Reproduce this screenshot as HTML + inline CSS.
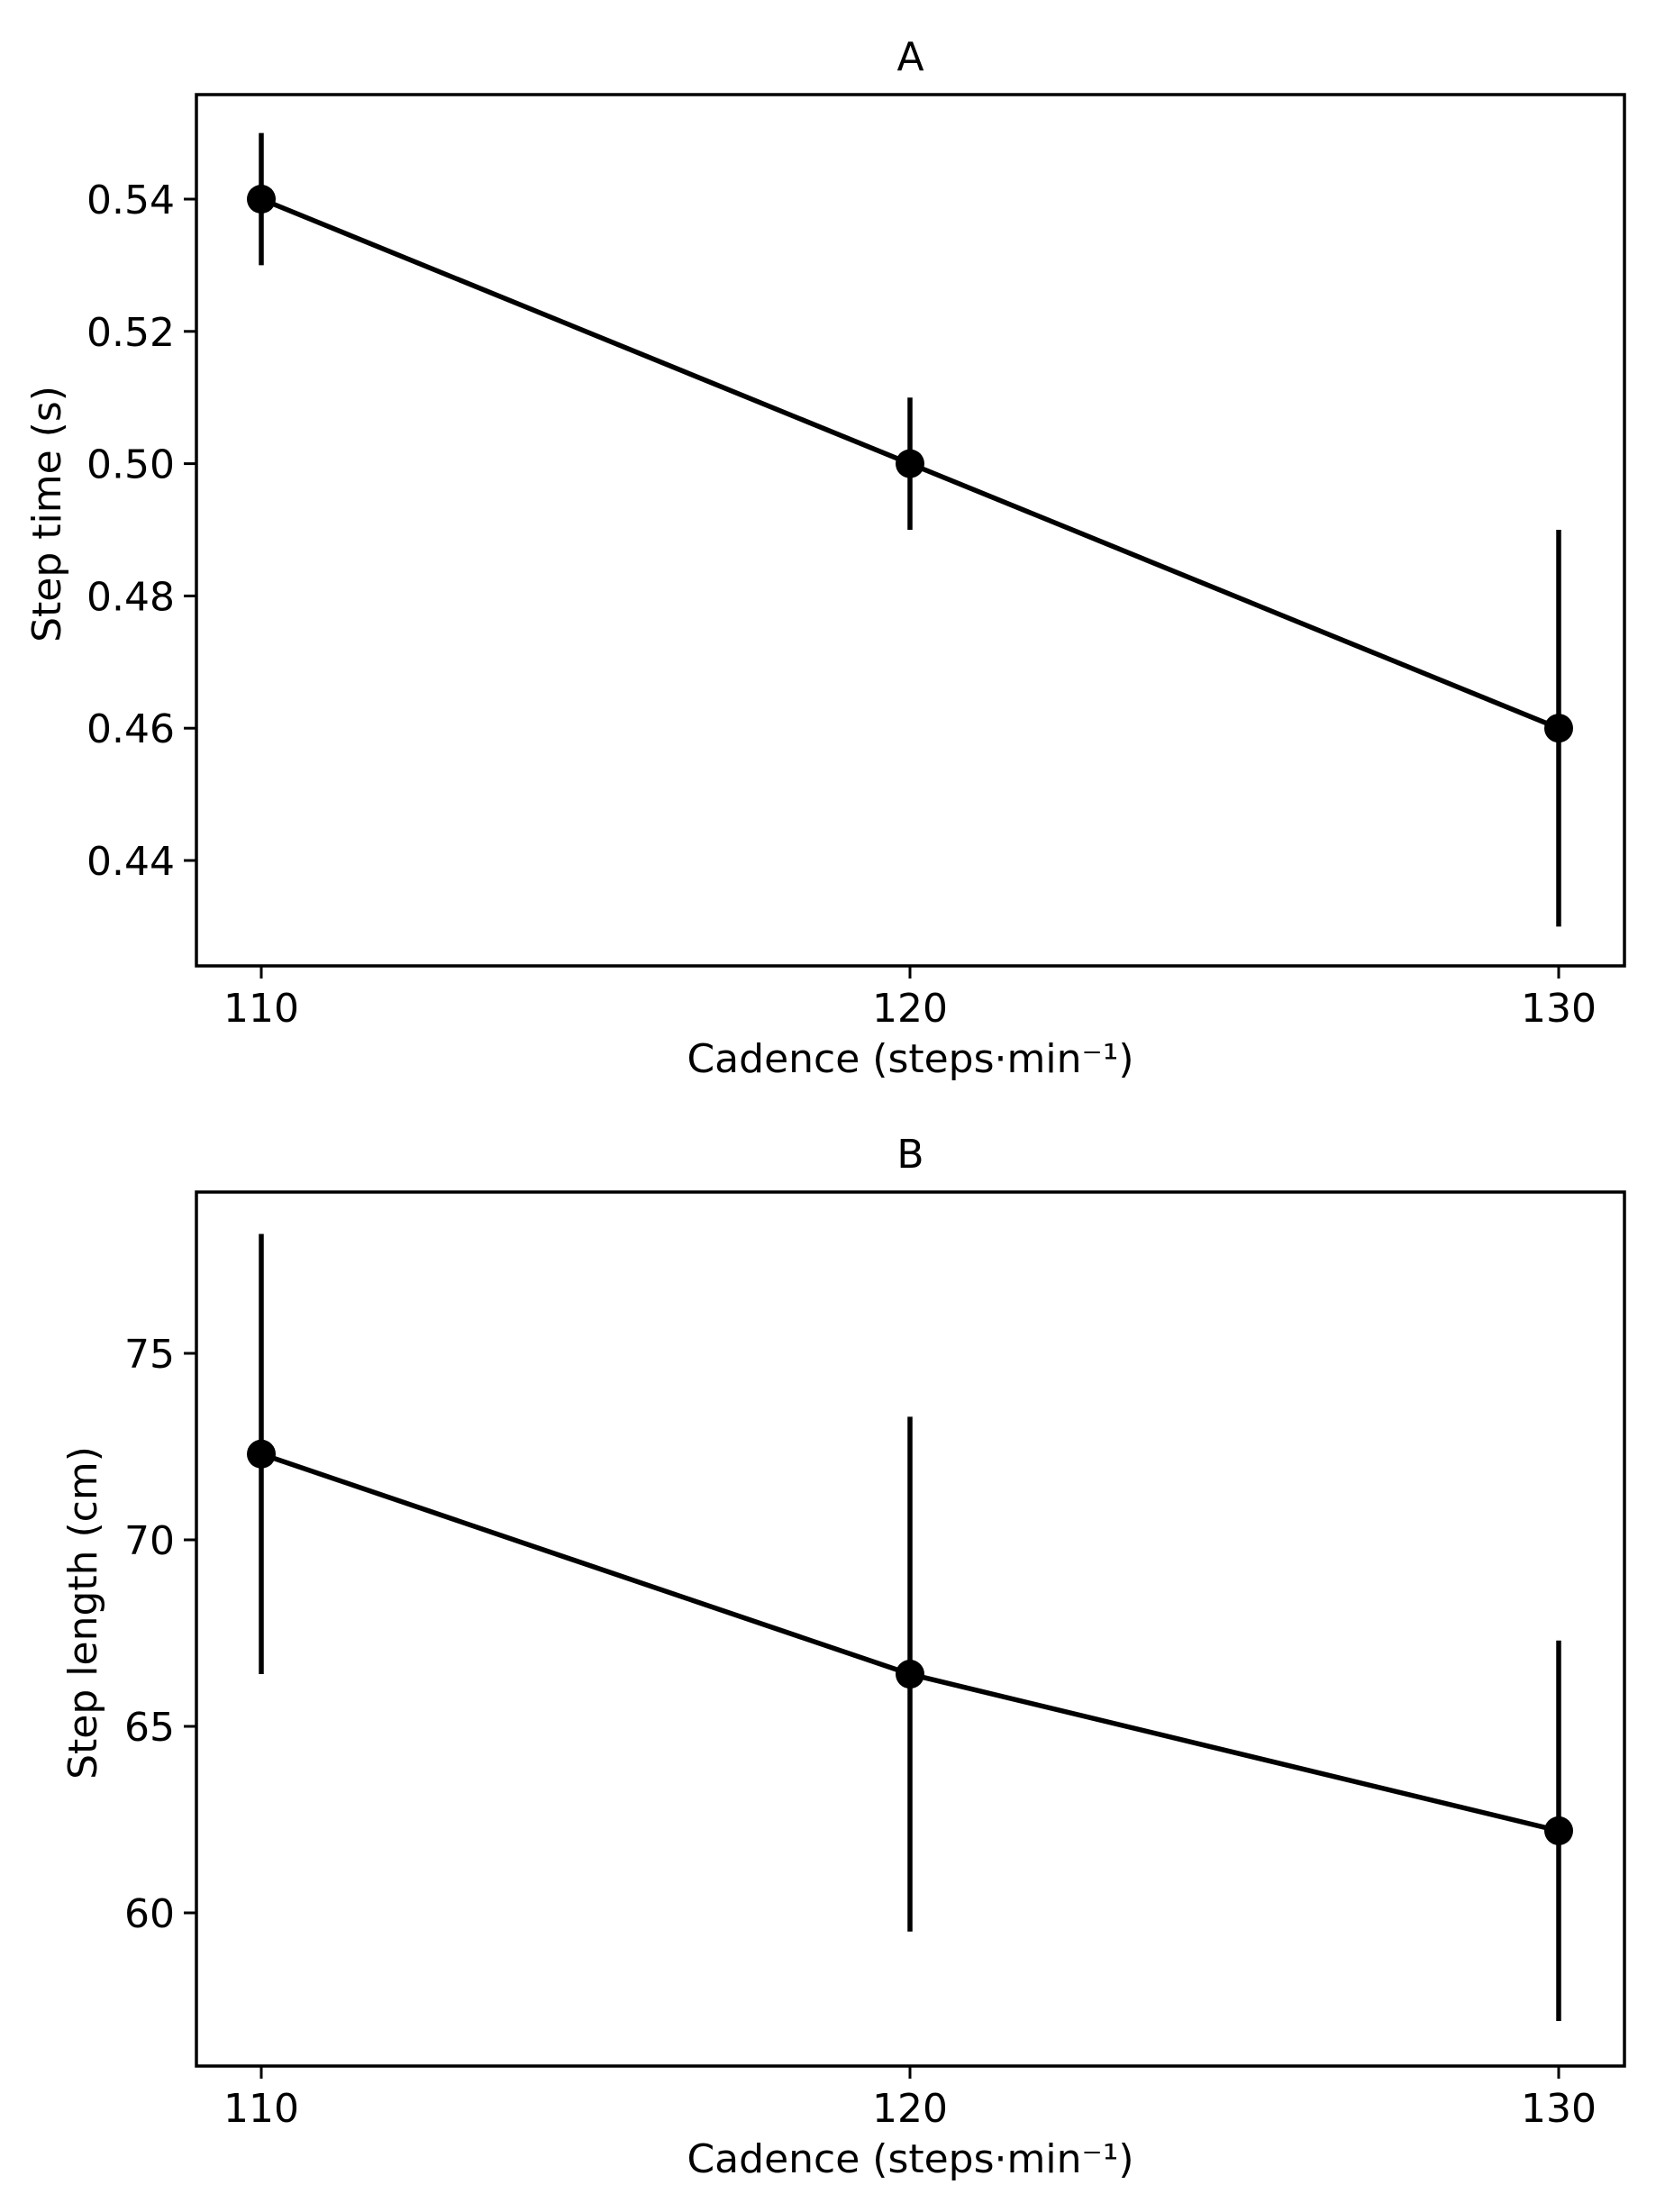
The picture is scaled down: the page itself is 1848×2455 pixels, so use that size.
<!DOCTYPE html>
<html><head><meta charset="utf-8">
<style>
html,body{margin:0;padding:0;background:#fff;}
svg{display:block;}
text{font-family:"DejaVu Sans","Liberation Sans",sans-serif;fill:#000;}
</style></head>
<body>
<svg id="fig" width="1848" height="2455" viewBox="0 0 1848 2455" xmlns="http://www.w3.org/2000/svg"></svg>
<script>
const cadences = [110, 120, 130];
const xTicks = [110, 120, 130];
const stepTimeMean = [0.54, 0.50, 0.46];
const stepTimeErr = [0.01, 0.01, 0.03];
const stepTimeTicks = [0.44, 0.46, 0.48, 0.50, 0.52, 0.54];
const stepTimeTickLabels = ["0.44", "0.46", "0.48", "0.50", "0.52", "0.54"];
const stepLengthMean = [72.3, 66.4, 62.2];
const stepLengthErr = [5.9, 6.9, 5.1];
const stepLengthTicks = [60, 65, 70, 75];
const stepLengthTickLabels = ["60", "65", "70", "75"];

const NS = "http://www.w3.org/2000/svg";
const svg = document.getElementById('fig');
function mk(tag, attrs, parent){
  const e = document.createElementNS(NS, tag);
  for (const k in attrs) e.setAttribute(k, attrs[k]);
  (parent || svg).appendChild(e);
  return e;
}
function xScale(v){ return 290 + (v - 110) * 72.0; }

function panel(cfg){
  const g = mk('g', {});
  
  
  const yS = v => cfg.y0px + (v - cfg.y0) * cfg.pxPerUnit;
  const L = 218, R = 1803, T = cfg.top, B = cfg.bottom;
  const t = mk('text', {x: (L+R)/2, y: T - 27, 'font-size': 44, 'text-anchor': 'middle'}, g);
  t.textContent = cfg.title;
  
  
  cfg.yTicks.forEach((v, i) => {
    const y = yS(v);
    const tk = mk('line', {x1: L-14, x2: L, y1: y, y2: y, stroke: '#000', 'stroke-width': 3}, g);
    
    
    const lb = mk('text', {x: L-24, y: y + 16, 'font-size': 44, 'text-anchor': 'end'}, g);
    lb.textContent = cfg.yLabels[i];
    
    
  });
  xTicks.forEach(v => {
    const x = xScale(v);
    const tk = mk('line', {x1: x, x2: x, y1: B, y2: B+14, stroke: '#000', 'stroke-width': 3}, g);
    
    
    const lb = mk('text', {x: x, y: B + 62, 'font-size': 44, 'text-anchor': 'middle'}, g);
    lb.textContent = String(v);
    
    
  });
  const xl = mk('text', {x: (L+R)/2, y: B + 118, 'font-size': 44, 'text-anchor': 'middle'}, g);
  xl.textContent = 'Cadence (steps\u00b7min\u207b\u00b9)';
  
  
  const yl = mk('text', {x: 0, y: 0, 'font-size': 44, 'text-anchor': 'middle', transform: `translate(${cfg.ylabX},${(T+B)/2 - 18}) rotate(-90)`}, g);
  yl.textContent = cfg.ylabel;
  
  
  cadences.forEach((c, i) => {
    const x = xScale(c);
    const eb = mk('line', {x1: x, x2: x, y1: yS(cfg.mean[i] + cfg.err[i]), y2: yS(cfg.mean[i] - cfg.err[i]), stroke: '#000', 'stroke-width': 5.5}, g);
    
    
  });
  const pts = cadences.map((c, i) => xScale(c) + ',' + yS(cfg.mean[i])).join(' ');
  const pl = mk('polyline', {points: pts, fill: 'none', stroke: '#000', 'stroke-width': 5.5, 'stroke-linejoin': 'round'}, g);
  
  
  cadences.forEach((c, i) => {
    const m = mk('circle', {cx: xScale(c), cy: yS(cfg.mean[i]), r: 16, fill: '#000'}, g);
    
    
  });
  const fr = mk('rect', {x: L, y: T, width: R-L, height: B-T, fill: 'none', stroke: '#000', 'stroke-width': 3.5}, g);
  
  
}

panel({name: 'panel-a-step-time', title: 'A', top: 105, bottom: 1072,
  y0: 0.44, y0px: 955, pxPerUnit: -146.8 / 0.02,
  yTicks: stepTimeTicks, yLabels: stepTimeTickLabels,
  mean: stepTimeMean, err: stepTimeErr, ylabel: 'Step time (s)', ylabX: 67});
panel({name: 'panel-b-step-length', title: 'B', top: 1323, bottom: 2293,
  y0: 60, y0px: 2123, pxPerUnit: -41.4,
  yTicks: stepLengthTicks, yLabels: stepLengthTickLabels,
  mean: stepLengthMean, err: stepLengthErr, ylabel: 'Step length (cm)', ylabX: 107});
</script>
</body></html>
